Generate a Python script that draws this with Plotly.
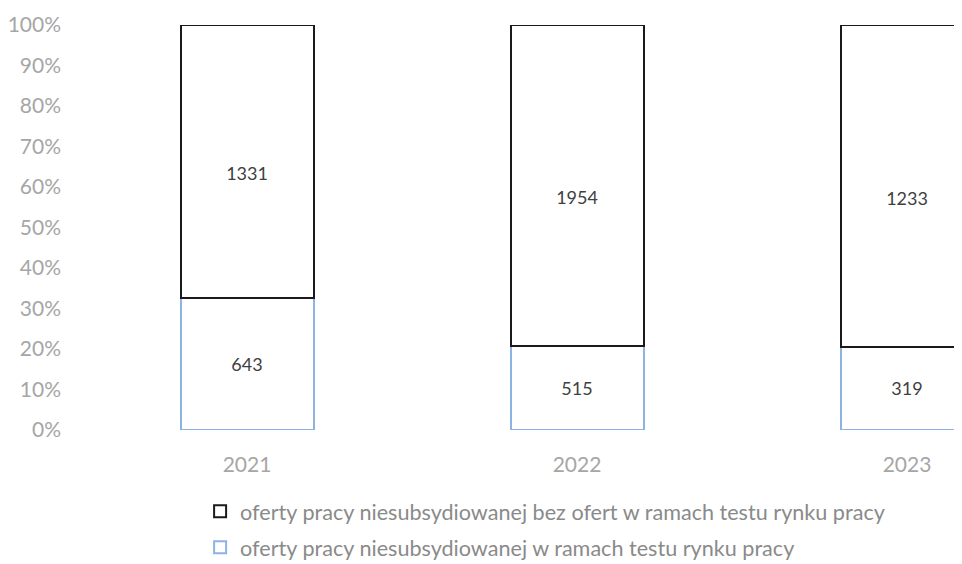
import plotly.graph_objects as go

years = ["2021", "2022", "2023"]
testu_values = [643, 515, 319]
bez_testu_values = [1331, 1954, 1233]
series_names = [
    "oferty pracy niesubsydiowanej w ramach testu rynku pracy",
    "oferty pracy niesubsydiowanej bez ofert w ramach testu rynku pracy",
]
y_ticks = [0, 10, 20, 30, 40, 50, 60, 70, 80, 90, 100]
y_tick_labels = [f"{v}%" for v in y_ticks]

FONT = "Lato, 'Open Sans', sans-serif"

fig = go.Figure()
fig.add_trace(go.Bar(
    x=years, y=testu_values, name=series_names[0], legendgroup="a", legendrank=2,
    marker=dict(color="white", line=dict(color="#8db3e2", width=2)),
    text=testu_values, textposition="inside", insidetextanchor="middle",
    textfont=dict(color="#404040", size=18, family=FONT),
    width=0.403,
))
fig.add_trace(go.Bar(
    x=years, y=bez_testu_values, name=series_names[1], legendgroup="b", legendrank=1,
    marker=dict(color="white", line=dict(color="#1a1a1a", width=2)),
    text=bez_testu_values, texttemplate="&nbsp;<br>%{text}",
    textposition="inside", insidetextanchor="middle",
    textfont=dict(color="#404040", size=18, family=FONT),
    width=0.403,
))

fig.update_layout(
    width=962, height=556,
    barmode="stack", barnorm="percent",
    paper_bgcolor="white", plot_bgcolor="white",
    margin=dict(l=74, r=0, t=17, b=134, autoexpand=False),
    font=dict(family=FONT, color="#9a9a9a", size=15),
    uniformtext=dict(minsize=10, mode="show"),
    showlegend=True,
    legend=dict(
        traceorder="grouped", orientation="v",
        x=0.133, xanchor="left", y=-0.15, yanchor="top",
        font=dict(size=21.6, color="#8a8a8a", family=FONT),
        tracegroupgap=5, itemwidth=30,
        bgcolor="rgba(0,0,0,0)",
    ),
    xaxis=dict(
        range=[-0.5, -0.5 + 888 / 330],
        showgrid=False, showline=False, zeroline=False,
        tickfont=dict(size=21, color="#a6a6a6", family=FONT),
        ticks="", ticklabelstandoff=20,
    ),
    yaxis=dict(
        range=[0, 100], tickvals=y_ticks, ticktext=y_tick_labels,
        showgrid=False, showline=False, zeroline=False,
        tickfont=dict(size=21, color="#a6a6a6", family=FONT),
        ticks="", ticklabelstandoff=20,
    ),
)

fig.write_html("out.html")
